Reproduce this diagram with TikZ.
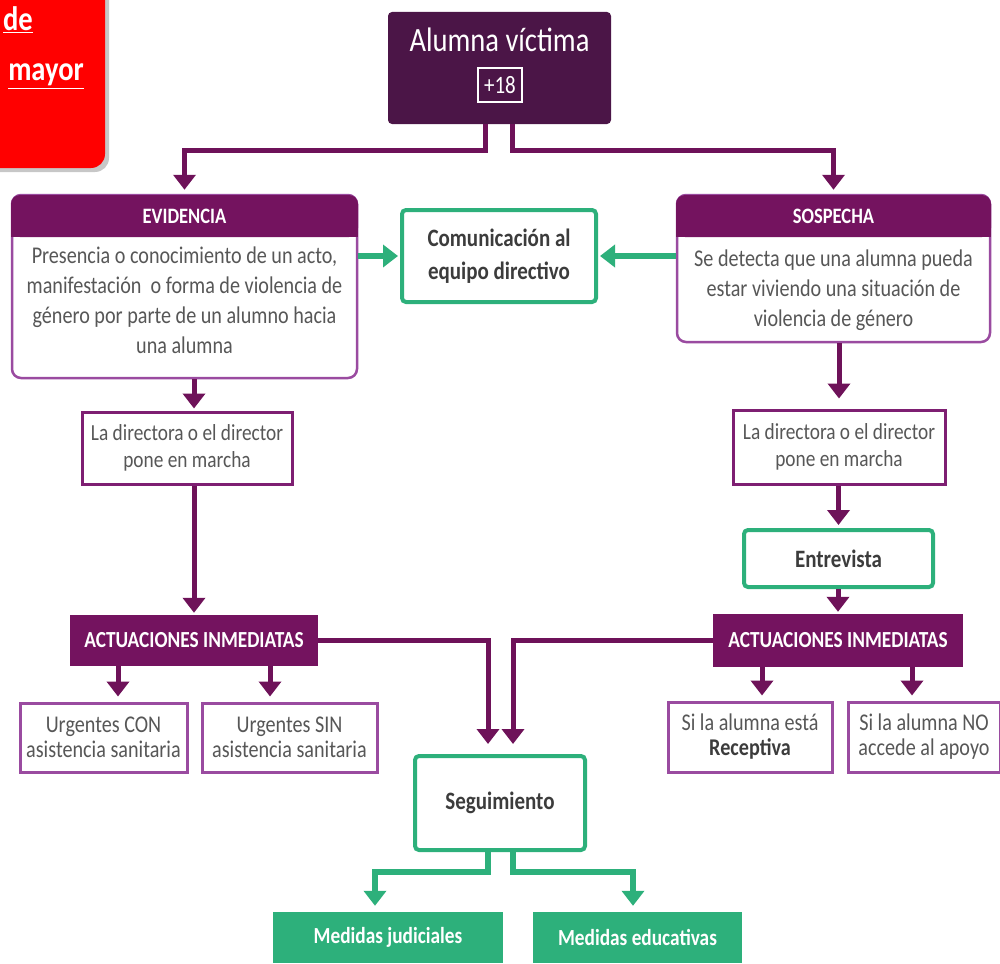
\documentclass[tikz,border=0pt]{standalone}
\usepackage{fontspec}
\setmainfont[FakeStretch=0.84]{Carlito}
\usetikzlibrary{arrows.meta,calc}
\definecolor{plumdark}{HTML}{4B1547}
\definecolor{hdr}{HTML}{74135F}
\definecolor{cardline}{HTML}{9A4BA0}
\definecolor{dirline}{HTML}{7E1F72}
\definecolor{parrow}{HTML}{6E1259}
\definecolor{gr}{HTML}{2DB07B}
\definecolor{txtgray}{HTML}{575757}
\definecolor{txtdark}{HTML}{3C3C3C}
\definecolor{redbox}{HTML}{FF0000}
\tikzset{
  topbox/.style={fill=plumdark, rounded corners=4pt, inner sep=0pt},
  toptxt/.style={text=white, font=\fontsize{34}{40}\selectfont, inner sep=0pt},
  agebox/.style={draw=white, line width=2pt, text=white, font=\fontsize{25}{28}\selectfont, minimum width=44pt, minimum height=34pt, inner sep=0pt},
  card/.style={draw=cardline, line width=2.5pt, fill=white, rounded corners=9pt, inner sep=0pt},
  cardhead/.style={fill=hdr, rounded corners=9pt, minimum height=42pt, inner sep=0pt},
  headtxt/.style={text=white, font=\bfseries\fontsize{22}{26}\selectfont, inner sep=0pt},
  bodytxt/.style={text=txtgray, align=center, font=\fontsize{24}{30}\selectfont, inner sep=0pt},
  gbox/.style={draw=gr, line width=4pt, fill=white, rounded corners=4pt, text=txtdark, align=center, font=\bfseries\fontsize{25}{33}\selectfont, inner sep=0pt},
  dirbox/.style={draw=dirline, line width=3pt, fill=white, text=txtgray, align=center, font=\fontsize{23}{27}\selectfont, inner sep=0pt},
  childbox/.style={draw=cardline, line width=3pt, fill=white, text=txtgray, align=center, font=\fontsize{24}{25}\selectfont, inner sep=0pt},
  actbox/.style={fill=hdr, text=white, font=\bfseries\fontsize{23}{27}\selectfont, inner sep=0pt},
  medbox/.style={fill=gr, text=white, font=\bfseries\fontsize{23}{27}\selectfont, inner sep=0pt},
  parr/.style={draw=parrow, line width=5pt, -{Triangle[length=15pt,width=22pt]}},
  garr/.style={draw=gr, line width=6pt, -{Triangle[length=15pt,width=22pt]}},
  redtxt/.style={text=white, font=\bfseries\fontsize{34}{40}\selectfont, inner sep=0pt}
}
\begin{document}
\begin{tikzpicture}[x=1pt,y=-1pt]
\useasboundingbox (0,0) rectangle (1000,963);
% red box (partly outside)
\fill[black!22, rounded corners=14pt] (-30,-30) rectangle (109,172);
\fill[redbox, rounded corners=14pt] (-30,-30) rectangle (105,168);
\node[redtxt, anchor=base east] (rde) at (33,31) {\underline{de}};
\node[redtxt, anchor=base east] (rmay) at (84,81) {\underline{mayor}};

% top box
\node[topbox, minimum width=223pt, minimum height=112pt] (top) at (499.5,68) {};
\node[toptxt] (toptitle) at (499.5,40) {Alumna víctima};
\node[agebox] (age) at (500,85) {+18};

% EVIDENCIA card
\node[card, minimum width=345pt, minimum height=183pt] (ev) at (184.5,286.5) {};
\node[cardhead, minimum width=347pt] (evh) at (184.5,216) {};
\fill[hdr] (evh.west) rectangle (evh.south east);
\node[headtxt] (evht) at (evh.center) {EVIDENCIA};
\node[bodytxt] (evt) at (184.5,300) {Presencia o conocimiento de un acto,\\manifestación\ \ o forma de violencia de\\género por parte de un alumno hacia\\una alumna};

% SOSPECHA card
\node[card, minimum width=313pt, minimum height=147pt] (sos) at (833.5,268.5) {};
\node[cardhead, minimum width=315pt] (sosh) at (833.5,216) {};
\fill[hdr] (sosh.west) rectangle (sosh.south east);
\node[headtxt] (sosht) at (sosh.center) {SOSPECHA};
\node[bodytxt] (sost) at (833.5,290) {Se detecta que una alumna pueda\\estar viviendo una situación de\\violencia de género};

% Comunicación
\node[gbox, minimum width=194pt, minimum height=92pt] (com) at (499,256) {Comunicación al\\equipo directivo};

% director boxes
\node[dirbox, minimum width=210pt, minimum height=72pt] (dl) at (187,448) {La directora o el director\\pone en marcha};
\node[dirbox, minimum width=212pt, minimum height=74pt] (dr) at (839,447) {La directora o el director\\pone en marcha};

% Entrevista
\node[gbox, minimum width=189pt, minimum height=57pt] (ent) at (838.5,558.5) {Entrevista};

% Actuaciones
\node[actbox, minimum width=248pt, minimum height=51pt] (actL) at (194,640.5) {ACTUACIONES INMEDIATAS};
\node[actbox, minimum width=250pt, minimum height=53pt] (actR) at (838,640.5) {ACTUACIONES INMEDIATAS};

% children
\node[childbox, minimum width=167pt, minimum height=69pt] (ucon) at (103.5,737.5) {Urgentes CON\\asistencia sanitaria};
\node[childbox, minimum width=175pt, minimum height=69pt] (usin) at (289.5,737.5) {Urgentes SIN\\asistencia sanitaria};
\node[childbox, minimum width=164pt, minimum height=70pt] (rec) at (750,737) {Si la alumna está\\\textbf{\color{txtdark}Receptiva}};
\node[childbox, minimum width=152pt, minimum height=70pt] (noap) at (924,737) {Si la alumna NO\\accede al apoyo};

% Seguimiento
\node[gbox, minimum width=170pt, minimum height=94pt] (seg) at (500,803) {Seguimiento};

% Medidas
\node[medbox, minimum width=230pt, minimum height=51pt] (mj) at (388,937.5) {Medidas judiciales};
\node[medbox, minimum width=209pt, minimum height=51pt] (me) at (637.5,937.5) {Medidas educativas};

% connectors
\draw[parr, shorten >=4pt] ([xshift=-14.5pt]top.south) -- ++(0,26) -| (ev.north);
\draw[parr, shorten >=4pt] ([xshift=12.5pt]top.south) -- ++(0,26) -| (sos.north);
\draw[garr, shorten >=2pt] (ev.east |- com) -- (com.west);
\draw[garr, shorten >=2pt] (sos.west |- com) -- (com.east);

\draw[parr, shorten >=2pt] (actL.north |- ev.south) -- (actL.north |- dl.north);
\draw[parr, shorten >=2pt] (actL.north |- dl.south) -- (actL.north);
\draw[parr, shorten >=10pt] (dr.north |- sos.south) -- (dr.north);
\draw[parr, shorten >=3pt] (ent.north |- dr.south) -- (ent.north);
\draw[parr, shorten >=2pt] (actR.north |- ent.south) -- (actR.north);

\draw[parr, shorten >=5pt] ([xshift=-76pt]actL.south) -- ([xshift=-76pt]actL.south |- ucon.north);
\draw[parr, shorten >=5pt] ([xshift=76pt]actL.south) -- ([xshift=76pt]actL.south |- usin.north);
\draw[parr, shorten >=5pt] ([xshift=-76pt]actR.south) -- ([xshift=-76pt]actR.south |- rec.north);
\draw[parr, shorten >=5pt] ([xshift=74pt]actR.south) -- ([xshift=74pt]actR.south |- noap.north);

\draw[parr, shorten >=10pt] (actL.east) -| ([xshift=-12pt]seg.north);
\draw[parr, shorten >=10pt] (actR.west) -| ([xshift=13pt]seg.north);

\draw[garr, shorten >=6pt] ([xshift=-12pt]seg.south) -- ++(0,20) -| ([xshift=-13pt]mj.north);
\draw[garr, shorten >=6pt] ([xshift=13pt]seg.south) -- ++(0,20) -| ([xshift=-4.5pt]me.north);
\end{tikzpicture}
\end{document}
